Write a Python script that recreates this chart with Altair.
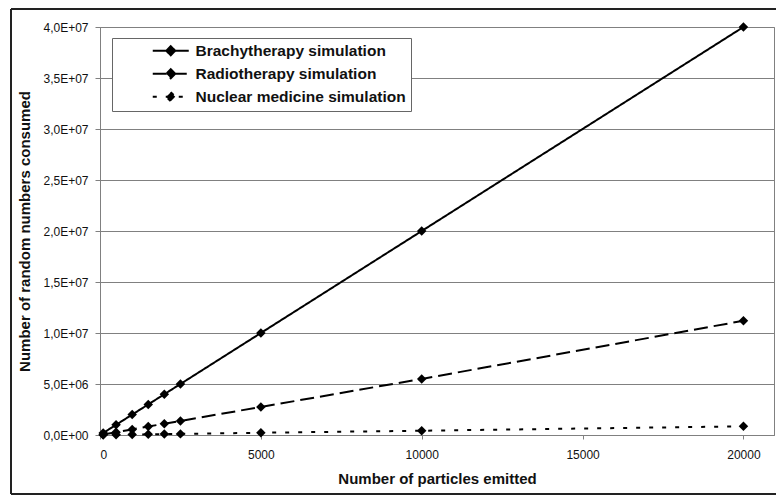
import altair as alt
import pandas as pd

# ---- data ----
particles = [100, 500, 1000, 1500, 2000, 2500, 5000, 10000, 20000]
brachy = [2.0e5, 1.0e6, 2.0e6, 3.0e6, 4.0e6, 5.0e6, 1.0e7, 2.0e7, 4.0e7]
radio = [5.5e4, 2.8e5, 5.5e5, 8.3e5, 1.1e6, 1.38e6, 2.75e6, 5.5e6, 1.12e7]
nuclear = [4.5e3, 2.2e4, 4.5e4, 6.7e4, 9.0e4, 1.1e5, 2.2e5, 4.2e5, 8.5e5]
series_names = ["Brachytherapy simulation", "Radiotherapy simulation",
                "Nuclear medicine simulation"]
x_ticks = [0, 5000, 10000, 15000, 20000]
y_ticks = [0, 5e6, 1e7, 1.5e7, 2e7, 2.5e7, 3e7, 3.5e7, 4e7]
x_title = "Number of particles emitted"
y_title = "Number of random numbers consumed"

rows = []
for name, vals in zip(series_names, [brachy, radio, nuclear]):
    for p, v in zip(particles, vals):
        rows.append({"particles": p, "value": v, "series": name})
df = pd.DataFrame(rows)

FONT = "Liberation Sans"
GRAY = "#808080"

x_enc = alt.X("particles:Q",
              scale=alt.Scale(domain=[0, 20950], nice=False, zero=True),
              axis=alt.Axis(values=x_ticks, title=x_title, grid=False, format="d",
                            labelFont=FONT, labelFontSize=12, labelColor="#111",
                            tickSize=4, tickColor=GRAY, domainColor=GRAY,
                            labelPadding=10, titleFont=FONT, titleFontSize=15,
                            titleFontWeight="bold", titleColor="#111",
                            titlePadding=11))
y_enc = alt.Y("value:Q",
              scale=alt.Scale(domain=[0, 4e7], nice=False),
              axis=alt.Axis(values=y_ticks, title=y_title, grid=True,
                            gridColor=GRAY, gridWidth=1,
                            labelExpr="replace(replace(format(datum.value, '.1e'), '.', ','), 'e+', 'E+0')",
                            labelFont=FONT, labelFontSize=12, labelColor="#111",
                            tickSize=5, tickColor=GRAY, domainColor=GRAY,
                            labelPadding=7, titleFont=FONT, titleFontSize=15,
                            titleFontWeight="bold", titleColor="#111",
                            titlePadding=10))

base = alt.Chart(df).encode(x=x_enc, y=y_enc)

lines = base.mark_line(color="black", strokeWidth=2).encode(
    strokeDash=alt.StrokeDash(
        "series:N",
        scale=alt.Scale(domain=series_names, range=[[1, 0], [14, 6], [4, 9]]),
        sort=series_names,
        legend=alt.Legend(
            title=None, orient="none", legendX=12, legendY=11,
            symbolType="M-3,0H3M0,-0.75L0.75,0L0,0.75L-0.75,0Z",
            symbolSize=144, symbolFillColor="black",
            symbolStrokeColor="black", symbolStrokeWidth=2,
            symbolOffset=46, labelOffset=17,
            labelFont=FONT, labelFontSize=15.5, labelFontWeight="bold",
            labelColor="#111", labelLimit=400,
            strokeColor="#666", fillColor="white", padding=5, rowPadding=5,
        ),
    )
)
points = base.mark_point(shape="diamond", filled=True, color="black",
                         size=90, opacity=1).encode(detail="series:N")

# outer frame of the figure (decoration)
frame_left = alt.Chart(df).mark_rule(color="#222", strokeWidth=2).encode(
    x=alt.value(-89), y=alt.value(-18), y2=alt.value(467))
frame_top = alt.Chart(df).mark_rule(color="#222", strokeWidth=2).encode(
    x=alt.value(-89), x2=alt.value(700), y=alt.value(-18))
frame_bottom = alt.Chart(df).mark_rule(color="#222", strokeWidth=2).encode(
    x=alt.value(-89), x2=alt.value(700), y=alt.value(467))

chart = alt.layer(frame_left, frame_top, frame_bottom, lines, points).properties(
    width=674, height=408,
    autosize=alt.AutoSizeParams(type="none"),
    padding={"left": 92, "top": 19, "right": 2, "bottom": 60},
    background="white",
).configure_view(stroke=GRAY, strokeWidth=1)

chart.save("out.html", embed_options={"renderer": "svg", "actions": False})
